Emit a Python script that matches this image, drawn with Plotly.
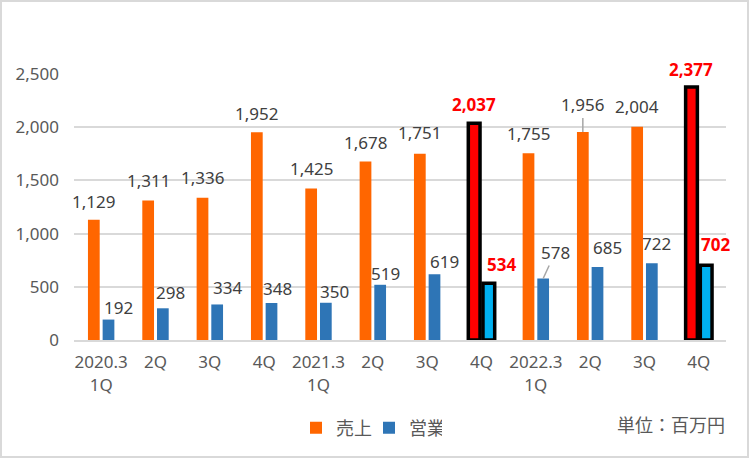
import plotly.graph_objects as go

# ---- data ----
tick_labels = ["2020.3<br>1Q", "2Q", "3Q", "4Q", "2021.3<br>1Q", "2Q", "3Q", "4Q",
               "2022.3<br>1Q", "2Q", "3Q", "4Q"]
sales = [1129, 1311, 1336, 1952, 1425, 1678, 1751, 2037, 1755, 1956, 2004, 2377]
operating = [192, 298, 334, 348, 350, 519, 619, 534, 578, 685, 722, 702]
highlight = [7, 11]
y_ticks = [0, 500, 1000, 1500, 2000, 2500]

# ---- styles ----
ORANGE = "#FF6600"
BLUE = "#2E75B6"
RED = "#FF0000"
LBLUE = "#00B0F0"
LABEL_C = "#404040"
AXIS_C = "#595959"
GRID_C = "#D9D9D9"
FONT = "Noto Sans, Noto Sans CJK JP, sans-serif"

# label offsets (pixels) from the top centre of each bar
sales_dx = [0, 0, 0, 0, 0, 0, 0, 0, 0, 0, 0, 0]
sales_dy = [18, 20, 20, 19, 20, 19, 21, 19, 20, 27, 20, 18]
op_dx = [10, 8, 10, 6, 9, 5, 10, 13, 12, 10, 5, 9]
op_dy = [12, 16, 17, 14, 11, 11, 13, 19, 26, 20, 20, 21]
leader_sales = [9]
leader_op = [8]

n = len(sales)
xs = list(range(n))

W, H = 750, 459
L, R, T, B = 74, 24, 74, 119
pw = W - L - R
ph = H - T - B
bargap = 0.46
bar_off = (pw / n) * (1 - bargap) / 4

s_colors = [RED if i in highlight else ORANGE for i in xs]
o_colors = [LBLUE if i in highlight else BLUE for i in xs]
lw = [3.5 if i in highlight else 0 for i in xs]

fig = go.Figure()
fig.add_trace(go.Bar(x=xs, y=sales, name="売上",
                     marker=dict(color=s_colors, line=dict(color="black", width=lw))))
fig.add_trace(go.Bar(x=xs, y=operating, name="営業",
                     marker=dict(color=o_colors, line=dict(color="black", width=lw))))

annots = []
for vals, dxs, dys, shift, leaders in [
    (sales, sales_dx, sales_dy, -bar_off, leader_sales),
    (operating, op_dx, op_dy, bar_off, leader_op),
]:
    for i, v in enumerate(vals):
        hi = i in highlight
        font = dict(family=FONT, size=17, color=RED if hi else LABEL_C)
        text = f"<b>{v:,}</b>" if hi else f"{v:,}"
        if i in leaders:
            annots.append(dict(x=i, y=v, xref="x", yref="y", text=text, font=font,
                               showarrow=True, arrowhead=0, arrowwidth=1.5,
                               arrowcolor="#A6A6A6", ax=dxs[i], ay=-dys[i],
                               xshift=shift, standoff=0))
        else:
            annots.append(dict(x=i, y=v, xref="x", yref="y", text=text, font=font,
                               showarrow=False, xanchor="center", yanchor="middle",
                               xshift=shift + dxs[i], yshift=dys[i]))

annots.append(dict(x=(727 - L) / pw, y=(340 - 425) / ph, xref="paper", yref="paper",
                   text="単位：百万円", showarrow=False, xanchor="right", yanchor="middle",
                   font=dict(family=FONT, size=18, color=AXIS_C)))

fig.update_layout(
    width=W, height=H,
    margin=dict(l=L, r=R, t=T, b=B, autoexpand=False),
    paper_bgcolor="white", plot_bgcolor="white",
    barmode="group", bargap=bargap, bargroupgap=0.2,
    font=dict(family=FONT, size=17, color=AXIS_C),
    annotations=annots,
    showlegend=True,
    legend=dict(orientation="h", x=(296 - L) / pw, y=(340 - 428) / ph,
                xanchor="left", yanchor="middle",
                font=dict(family=FONT, size=18, color=AXIS_C),
                itemwidth=30, entrywidth=28, traceorder="normal", bgcolor="rgba(0,0,0,0)"),
    shapes=[dict(type="rect", xref="paper", yref="paper",
                 x0=(1 - L) / pw, x1=(748 - L) / pw,
                 y0=(340 - 457) / ph, y1=(340 - 1) / ph,
                 line=dict(color=GRID_C, width=2), fillcolor="rgba(0,0,0,0)", layer="below")],
)
fig.update_xaxes(tickvals=xs, ticktext=tick_labels, range=[-0.5, n - 0.5],
                 showgrid=False, zeroline=False, showline=True, linecolor=GRID_C, linewidth=2,
                 ticks="", ticklabelstandoff=6, automargin=False,
                 tickfont=dict(family=FONT, size=17, color=AXIS_C))
fig.update_yaxes(range=[0, 2500], tickvals=y_ticks, tickformat=",",
                 showgrid=True, gridcolor=GRID_C, gridwidth=2, zeroline=False,
                 showline=False, ticks="", ticklabelstandoff=14, automargin=False,
                 tickfont=dict(family=FONT, size=17, color=AXIS_C))

fig.write_html("out.html", config={"displayModeBar": False},
               post_script="document.body.style.margin='0';")
